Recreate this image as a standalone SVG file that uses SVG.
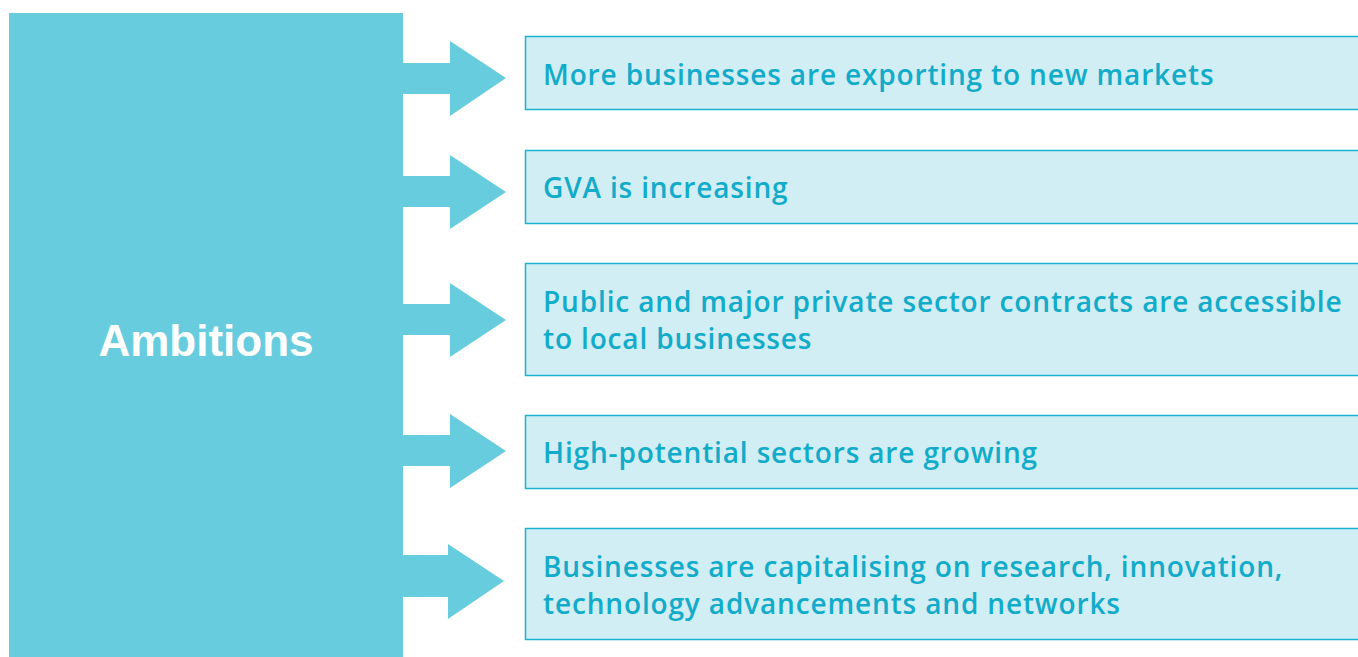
<svg xmlns="http://www.w3.org/2000/svg" width="1358" height="657" viewBox="0 0 1358 657">
<style>
.main{fill:#67CDDE}
.arrow{fill:#67CDDE}
.box{fill:#D0EEF4;stroke:#1AB4D2;stroke-width:1.5}
.t{font-family:"Open Sans","Liberation Sans",sans-serif;font-size:28px;font-weight:600;fill:#12ABC9;letter-spacing:0.85px}
.title{font-family:"Liberation Sans",sans-serif;font-weight:bold;font-size:44px;fill:#FFFFFF}
</style>
<rect width="1358" height="657" fill="#FFFFFF"/>
<g id="ambitions">
<rect class="main" x="9" y="13" width="394" height="644"/>
<text class="title" x="206" y="356" text-anchor="middle">Ambitions</text>
</g>
<g id="connectors">
<polygon class="arrow" points="402,63 450,63 450,41 506,78 450,116 450,94 402,94"/>
<polygon class="arrow" points="402,176 450,176 450,155 506,192 450,229 450,207 402,207"/>
<polygon class="arrow" points="402,304 450,304 450,283 506,320 450,357 450,335 402,335"/>
<polygon class="arrow" points="402,435 450,435 450,414 506,451 450,488 450,466 402,466"/>
<polygon class="arrow" points="402,555 448,555 448,544 504,581 448,619 448,597 402,597"/>
</g>
<g id="n1">
<rect class="box" x="525.5" y="36.5" width="840" height="73"/>
<text class="t" x="543" y="85">More businesses are exporting to new markets</text>
</g>
<g id="n2">
<rect class="box" x="525.5" y="150.5" width="840" height="73"/>
<text class="t" x="543" y="198">GVA is increasing</text>
</g>
<g id="n3">
<rect class="box" x="525.5" y="263.5" width="840" height="112"/>
<text class="t" x="543" y="312">Public and major private sector contracts are accessible</text>
<text class="t" x="543" y="349">to local businesses</text>
</g>
<g id="n4">
<rect class="box" x="525.5" y="415.5" width="840" height="73"/>
<text class="t" x="543" y="463">High-potential sectors are growing</text>
</g>
<g id="n5">
<rect class="box" x="525.5" y="528.5" width="840" height="111"/>
<text class="t" x="543" y="577">Businesses are capitalising on research, innovation,</text>
<text class="t" x="543" y="614">technology advancements and networks</text>
</g>
</svg>
